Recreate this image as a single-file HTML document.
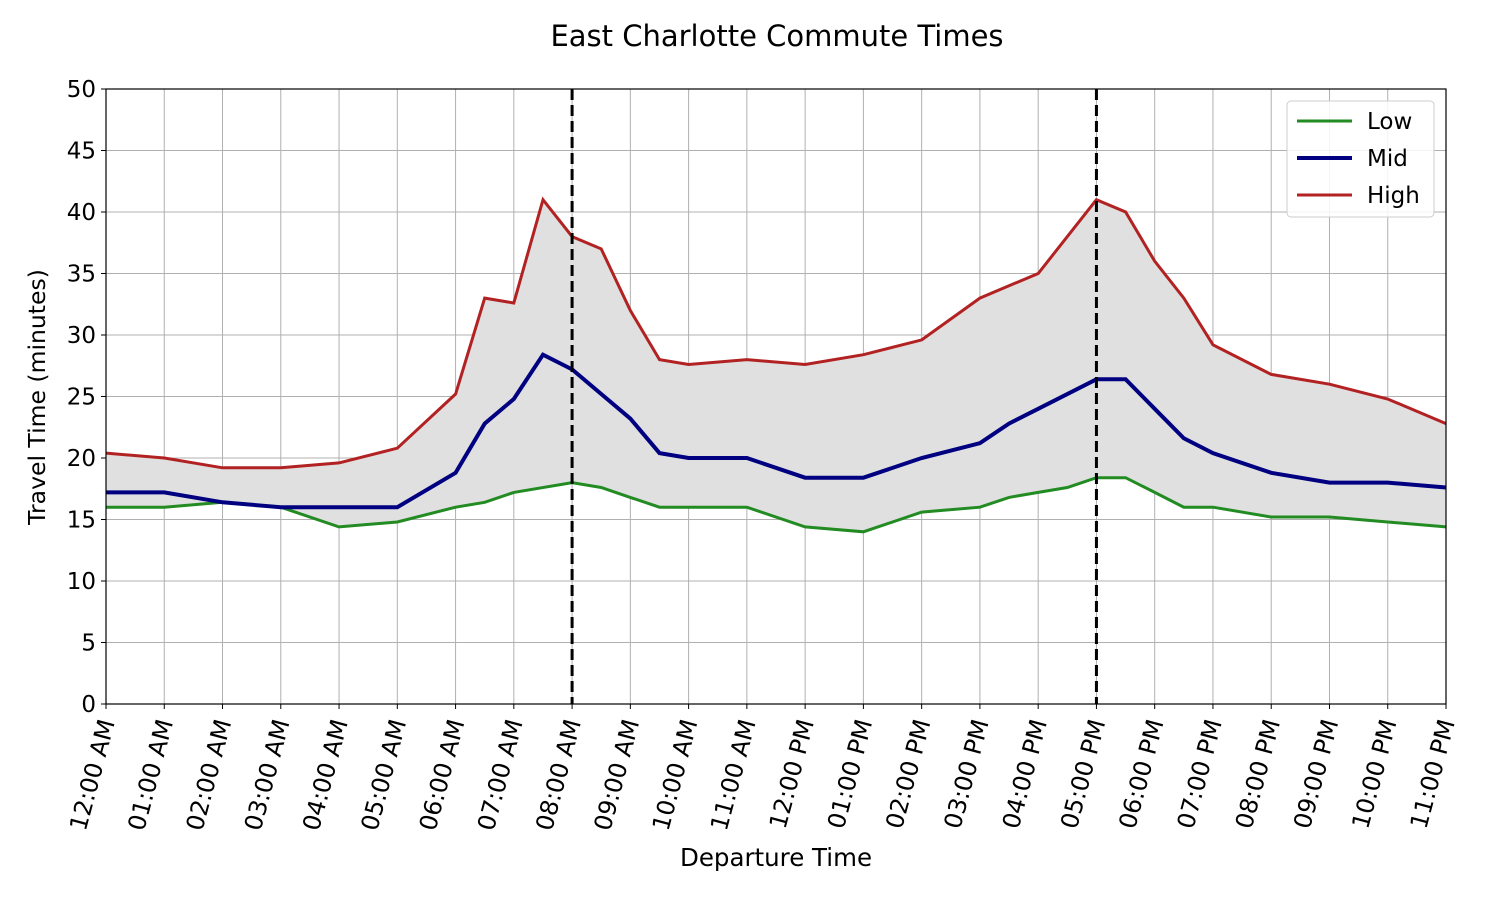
<!DOCTYPE html>
<html><head><meta charset="utf-8"><style>body{margin:0;background:#fff}</style></head>
<body><svg id="s" width="1500" height="900" xmlns="http://www.w3.org/2000/svg" font-family="DejaVu Sans, sans-serif"></svg>
<script>
const s=document.getElementById('s');
const X0=106,X1=1446,Y0=704,Y1=89;
const xp=h=>X0+h*(X1-X0)/23, yp=v=>Y0-v*(Y0-Y1)/50;
const H=[[0,20.4],[1,20],[2,19.2],[3,19.2],[4,19.6],[5,20.8],[6,25.2],[6.5,33],[7,32.6],[7.5,41],[8,38],[8.5,37],[9,32],[9.5,28],[10,27.6],[11,28],[12,27.6],[13,28.4],[14,29.6],[15,33],[15.5,34],[16,35],[17,41],[17.5,40],[18,36],[18.5,33],[19,29.2],[20,26.8],[21,26],[22,24.8],[23,22.8]];
const M=[[0,17.2],[1,17.2],[2,16.4],[3,16],[4,16],[5,16],[6,18.8],[6.5,22.8],[7,24.8],[7.5,28.4],[8,27.2],[8.5,25.2],[9,23.2],[9.5,20.4],[10,20],[11,20],[12,18.4],[13,18.4],[14,20],[15,21.2],[15.5,22.8],[16,24],[17,26.4],[17.5,26.4],[18,24],[18.5,21.6],[19,20.4],[20,18.8],[21,18],[22,18],[23,17.6]];
const L=[[0,16],[1,16],[2,16.4],[3,16],[4,14.4],[5,14.8],[6,16],[6.5,16.4],[7,17.2],[8,18],[8.5,17.6],[9,16.8],[9.5,16],[10,16],[11,16],[12,14.4],[13,14],[14,15.6],[15,16],[15.5,16.8],[16,17.2],[16.5,17.6],[17,18.4],[17.5,18.4],[18,17.2],[18.5,16],[19,16],[20,15.2],[21,15.2],[22,14.8],[23,14.4]];
const pts=a=>a.map(p=>xp(p[0]).toFixed(1)+','+yp(p[1]).toFixed(1)).join(' ');
let h='';
h+=`<text x="777" y="46" font-size="29" text-anchor="middle">East Charlotte Commute Times</text>`;
for(let i=0;i<=23;i++)h+=`<line x1="${xp(i)}" x2="${xp(i)}" y1="${Y1}" y2="${Y0}" stroke="#b0b0b0" stroke-width="1"/>`;
for(let v=0;v<=50;v+=5)h+=`<line x1="${X0}" x2="${X1}" y1="${yp(v)}" y2="${yp(v)}" stroke="#b0b0b0" stroke-width="1"/>`;
h+=`<polygon points="${pts(H)} ${pts(L.slice().reverse())}" fill="#e0e0e0"/>`;
h+=`<polyline points="${pts(L)}" fill="none" stroke="#228b22" stroke-width="3"/>`;
h+=`<polyline points="${pts(M)}" fill="none" stroke="#000080" stroke-width="4"/>`;
h+=`<polyline points="${pts(H)}" fill="none" stroke="#b22222" stroke-width="3"/>`;
[8,17].forEach(t=>h+=`<line x1="${xp(t)}" x2="${xp(t)}" y1="${Y1}" y2="${Y0}" stroke="#000" stroke-width="3" stroke-dasharray="11,5"/>`);
h+=`<rect x="${X0}" y="${Y1}" width="${X1-X0}" height="${Y0-Y1}" fill="none" stroke="#000" stroke-width="1.2"/>`;
for(let v=0;v<=50;v+=5){h+=`<line x1="${X0-5}" x2="${X0}" y1="${yp(v)}" y2="${yp(v)}" stroke="#000"/><text x="${X0-10}" y="${yp(v)+8}" font-size="23" text-anchor="end">${v}</text>`;}
const lab=i=>{let hr=i%12;if(hr==0)hr=12;return String(hr).padStart(2,'0')+':00 '+(i<12?'AM':'PM');};
for(let i=0;i<=23;i++){const x=xp(i);h+=`<line x1="${x}" x2="${x}" y1="${Y0}" y2="${Y0+5}" stroke="#000"/><text transform="translate(${x+9},${Y0+18}) rotate(-75)" font-size="24" text-anchor="end">${lab(i)}</text>`;}
h+=`<text x="776" y="866" font-size="24.5" text-anchor="middle">Departure Time</text>`;
h+=`<text transform="translate(45,397) rotate(-90)" font-size="23.5" text-anchor="middle">Travel Time (minutes)</text>`;
h+=`<rect x="1287" y="101" width="147" height="116" rx="4" fill="#fff" fill-opacity="0.85" stroke="#ccc"/>`;
[["Low","#228b22",3,121],["Mid","#000080",4,158],["High","#b22222",3,195]].forEach(([t,c,w,y])=>{h+=`<line x1="1297" x2="1352" y1="${y}" y2="${y}" stroke="${c}" stroke-width="${w}"/><text x="1367" y="${y+8}" font-size="23">${t}</text>`;});
s.innerHTML=h;
</script></body></html>
